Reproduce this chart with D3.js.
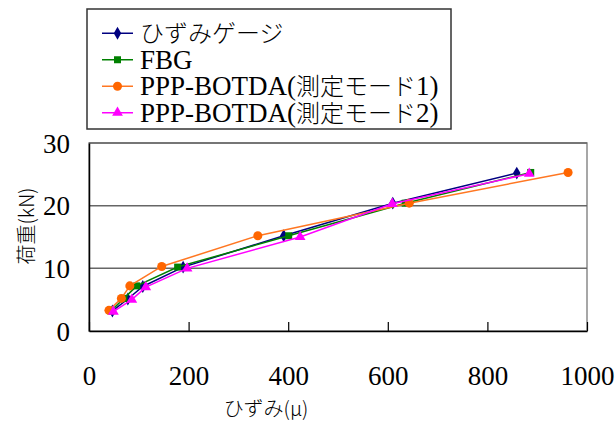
<!DOCTYPE html>
<html>
<head>
<meta charset="utf-8">
<script src="https://cdn.jsdelivr.net/npm/d3@7"></script>
<style>
  html, body { margin: 0; padding: 0; background: #fff; }
  svg { display: block; }
  text { font-family: "Liberation Serif", "Noto Sans CJK JP", serif; fill: #000; }
</style>
</head>
<body>
<div id="chart"></div>
<script>
// load level (kN) at each step
const seriesNames = ['ひずみゲージ', 'FBG', 'PPP-BOTDA(測定モード1)', 'PPP-BOTDA(測定モード2)'];
const gaugeStrain = [47, 78, 108, 189, 391, 610, 859];
const gaugeLoad = [3.2, 5.1, 7.1, 10.2, 15.2, 20.4, 25.2];
const fbgStrain = [44, 70, 96, 178, 401, 635, 887];
const fbgLoad = [3.2, 5.2, 7.2, 10.2, 15.2, 20.4, 25.3];
const mode1Strain = [40, 65, 82, 146, 339, 643, 962];
const mode1Load = [3.3, 5.2, 7.2, 10.3, 15.2, 20.4, 25.3];
const mode2Strain = [49, 86, 114, 197, 424, 609, 884];
const mode2Load = [3.1, 5.0, 7.0, 10.0, 15.0, 20.3, 25.1];
const xTicks = [0, 200, 400, 600, 800, 1000];
const yTicks = [0, 10, 20, 30];

const width = 615, height = 421;
const margin = { top: 143, right: 28, bottom: 90, left: 89 };
const innerW = width - margin.left - margin.right;
const innerH = height - margin.top - margin.bottom;

const series = [
  { name: seriesNames[0], x: gaugeStrain, y: gaugeLoad, color: '#000080', lineColor: '#000080', symbol: d3.symbolDiamond, size: 48 },
  { name: seriesNames[1], x: fbgStrain, y: fbgLoad, color: '#008000', lineColor: '#008000', symbol: d3.symbolSquare, size: 49 },
  { name: seriesNames[2], x: mode1Strain, y: mode1Load, color: '#FF6600', lineColor: '#FF7722', symbol: d3.symbolCircle, size: 64 },
  { name: seriesNames[3], x: mode2Strain, y: mode2Load, color: '#FF00FF', lineColor: '#FF00FF', symbol: d3.symbolTriangle, size: 50 }
];

const svg = d3.select('#chart').append('svg')
  .attr('width', width)
  .attr('height', height);

const g = svg.append('g')
  .attr('transform', 'translate(' + margin.left + ',' + margin.top + ')');

const x = d3.scaleLinear().domain([0, 1000]).range([0, innerW]);
const y = d3.scaleLinear().domain([0, 30]).range([innerH, 0]);

// plot frame + gridlines
g.append('rect')
  .attr('width', innerW)
  .attr('height', innerH)
  .attr('fill', 'none')
  .attr('stroke', '#8a8a8a')
  .attr('stroke-width', 1.5);

g.selectAll('.grid')
  .data(yTicks.filter(d => d > 0))
  .enter().append('line')
  .attr('class', 'grid')
  .attr('x1', 0)
  .attr('x2', innerW)
  .attr('y1', d => y(d))
  .attr('y2', d => y(d))
  .attr('stroke', '#666')
  .attr('stroke-width', 1.5);

// X axis (ticks pointing inward)
const xAxis = g.append('g')
  .attr('transform', 'translate(0,' + innerH + ')')
  .call(d3.axisBottom(x).tickValues(xTicks).tickFormat(d3.format('d'))
    .tickSizeInner(-9).tickSizeOuter(0).tickPadding(35));
xAxis.select('.domain').attr('stroke', '#000').attr('stroke-width', 1.5);
xAxis.selectAll('.tick line').attr('stroke', '#000').attr('stroke-width', 1.2);
xAxis.selectAll('text')
  .style('font-family', '"Liberation Serif", serif')
  .style('font-size', '27px');

// Y axis
const yAxis = g.append('g')
  .call(d3.axisLeft(y).tickValues(yTicks).tickSize(0).tickPadding(19));
yAxis.select('.domain').attr('stroke', '#000').attr('stroke-width', 1.5);
yAxis.selectAll('text')
  .attr('dy', '0.34em')
  .style('font-family', '"Liberation Serif", serif')
  .style('font-size', '27px');

// series lines + markers
const line = d3.line()
  .x(d => x(d[0]))
  .y(d => y(d[1]));

series.forEach(s => {
  const pts = s.x.map((v, i) => [v, s.y[i]]);
  g.append('path')
    .datum(pts)
    .attr('fill', 'none')
    .attr('stroke', s.lineColor)
    .attr('stroke-width', 1.5)
    .attr('d', line);
  g.selectAll(null)
    .data(pts)
    .enter().append('path')
    .attr('transform', d => 'translate(' + x(d[0]) + ',' + y(d[1]) + ')')
    .attr('d', d3.symbol().type(s.symbol).size(s.size))
    .attr('fill', s.color);
});

// axis titles
svg.append('text')
  .attr('transform', 'translate(34,226) rotate(-90)')
  .attr('text-anchor', 'middle')
  .style('font-size', '20px')
  .style('font-family', '"Noto Sans CJK JP", sans-serif')
  .style('font-weight', '300')
  .text('荷重(kN)');

svg.append('text')
  .attr('x', 266)
  .attr('y', 416)
  .attr('text-anchor', 'middle')
  .style('font-size', '20px')
  .style('font-family', '"Noto Sans CJK JP", sans-serif')
  .style('font-weight', '300')
  .text('ひずみ(μ)');

// legend
const legend = svg.append('g');
legend.append('rect')
  .attr('x', 87)
  .attr('y', 9)
  .attr('width', 364)
  .attr('height', 120)
  .attr('fill', '#fff')
  .attr('stroke', '#333')
  .attr('stroke-width', 1.5);

const cjk = /[\u3000-\u9fff\uff00-\uffef]/;
const rowY = d3.scaleBand().domain(seriesNames).range([20, 126]);

series.forEach(s => {
  const cy = rowY(s.name) + rowY.bandwidth() / 2;
  const row = legend.append('g').attr('transform', 'translate(0,' + cy + ')');
  row.append('line')
    .attr('x1', 102).attr('x2', 133)
    .attr('stroke', s.lineColor)
    .attr('stroke-width', 1.5);
  row.append('path')
    .attr('transform', 'translate(117.5,0)')
    .attr('d', d3.symbol().type(s.symbol).size(s.size))
    .attr('fill', s.color);
  const t = row.append('text')
    .attr('x', 140)
    .attr('y', 9)
    .style('font-size', '27px');
  // split into latin / japanese runs so kana get a slightly smaller size
  const runs = [];
  for (const ch of s.name) {
    const isJ = cjk.test(ch);
    if (runs.length && runs[runs.length - 1].j === isJ) runs[runs.length - 1].t += ch;
    else runs.push({ j: isJ, t: ch });
  }
  runs.forEach(r => {
    t.append('tspan')
      .style('font-family', r.j ? '"Noto Sans CJK JP", sans-serif' : '"Liberation Serif", serif')
      .style('font-size', r.j ? '24px' : '27px')
      .style('font-weight', r.j ? '300' : 'normal')
      .text(r.t);
  });
});
</script>
</body>
</html>
